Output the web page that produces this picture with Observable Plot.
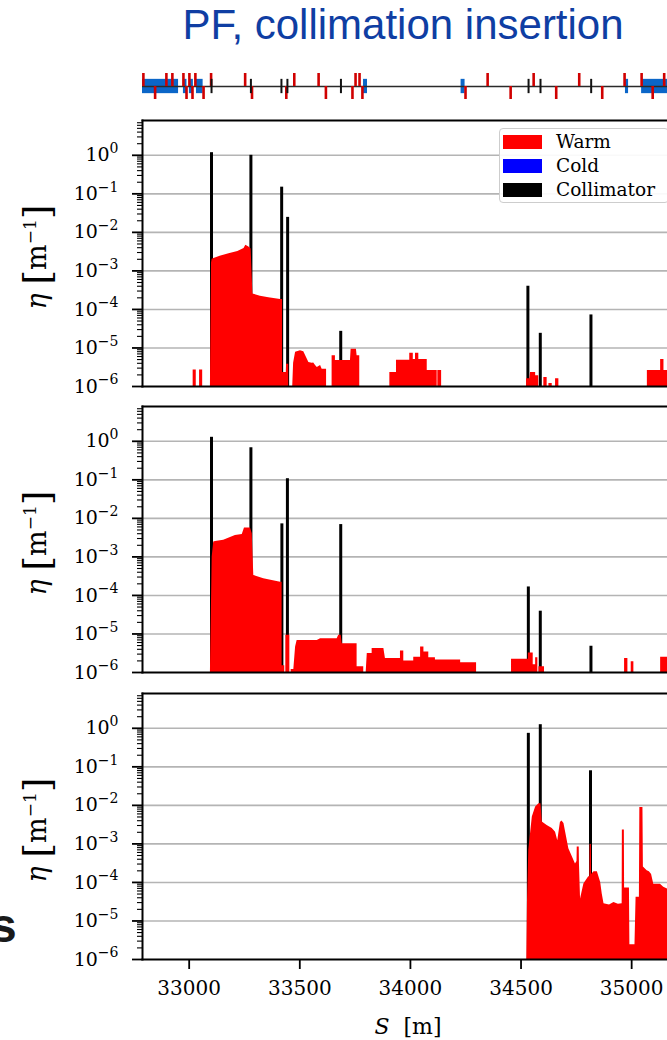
<!DOCTYPE html>
<html><head><meta charset="utf-8">
<script src="https://cdn.jsdelivr.net/npm/d3@7"></script>
<script src="https://cdn.jsdelivr.net/npm/@observablehq/plot@0.6"></script>
<style>
body{margin:0;background:#fff;width:667px;height:1040px;overflow:hidden;position:relative;}
.abs{position:absolute;}
#title{left:403px;top:4px;transform:translateX(-50%);font:42px/42px "Liberation Sans",Arial,sans-serif;color:#0f3ea3;white-space:nowrap;}
#sfrag{left:-10px;top:902px;font:bold 48px/48px "Liberation Sans",Arial,sans-serif;color:#1a1a1a;}
.ylab{transform:translate(-50%,-50%) rotate(-90deg);font-family:"DejaVu Serif",serif;font-size:27px;white-space:nowrap;color:#000;}
.ylab .br{font-size:38px;vertical-align:-4px;}
.ylab sup{font-size:17px;}
#xlab{left:408px;top:1026px;transform:translate(-50%,-50%);font-family:"DejaVu Serif",serif;font-size:22px;white-space:nowrap;}
#legend{left:499px;top:128px;width:170px;height:75px;background:rgba(255,255,255,0.92);border:1.5px solid #cdcdcd;border-radius:4px;box-sizing:border-box;}
.lrow{position:absolute;left:3px;height:24px;}
.sw{position:absolute;left:0;top:5px;width:39px;height:14px;}
.lt{position:absolute;left:53px;top:0;font:18.5px/24px "DejaVu Serif",serif;color:#000;white-space:nowrap;}
</style></head><body>
<div id="title" class="abs">PF, collimation insertion</div>
<div id="sfrag" class="abs">s</div>
<script>
// ---- axis settings ----
const xDomain = [32789, 35162];
const yDomain = [1e-6, 8];
const xTicks = [33000, 33500, 34000, 34500, 35000];
const yMajor = [1e-6, 1e-5, 1e-4, 1e-3, 1e-2, 1e-1, 1];
const yTickLabels = ["10|\u22126", "10|\u22125", "10|\u22124", "10|\u22123", "10|\u22122", "10|\u22121", "10|0"];
const yGrid = [1e-5, 1e-4, 1e-3, 1e-2, 1e-1, 1];
const yMinor = [];
for (let e = -6; e <= 0; e++) for (let k = 2; k <= 9; k++) { const v = k * Math.pow(10, e); if (v < yDomain[1]) yMinor.push(v); }

// ---- beam-line strip ----
const blueBoxes = [[32789, 32952], [32974, 32990], [33001, 33019], [33033, 33063], [33788, 33806], [34229, 34247], [34972, 34986], [35045, 35162]];
const redUp = [32793, 32897, 32924, 32974, 33001, 33028, 33099, 33253, 33475, 33585, 33752, 33770, 34349, 34557, 34763, 34968, 35045, 35147];
const redDown = [32846, 32988, 33015, 33065, 33284, 33439, 33618, 33738, 33783, 34249, 34453, 34659, 34867, 35095];
const blackTicks = [33101, 33279, 33417, 33444, 33686, 34534, 34588, 34817];

// ---- loss maps: [S, eta] ----
const B = 1e-6;
const warm1 = [[33018,B],[33018,2.7e-6],[33032,2.7e-6],[33032,B],
 [33047,B],[33047,2.7e-6],[33061,2.7e-6],[33061,B],
 [33096,B],[33101,1.6e-3],[33104,2.0e-3],[33112,2.1e-3],[33140,2.4e-3],[33180,2.8e-3],[33220,3.2e-3],[33248,3.8e-3],[33256,4.6e-3],[33270,4.2e-3],[33280,3.7e-3],[33288,2.5e-4],[33322,2.2e-4],[33360,2.0e-4],[33413,1.8e-4],[33422,1.8e-4],[33422,2.3e-6],[33439,2.3e-6],[33440,3.8e-6],[33450,3.8e-6],[33450,B],
 [33468,B],[33472,4e-6],[33481,7.7e-6],[33503,8.5e-6],[33518,8.0e-6],[33541,4.2e-6],[33556,4.0e-6],[33563,4.1e-6],[33571,3.5e-6],[33579,3.1e-6],[33594,3.5e-6],[33601,2.8e-6],[33621,2.8e-6],[33621,B],
 [33646,B],[33646,6.3e-6],[33661,6.3e-6],[33661,4.7e-6],[33729,4.7e-6],[33732,9.3e-6],[33756,9.3e-6],[33759,6.3e-6],[33771,6.3e-6],[33771,B],
 [33907,B],[33907,2.3e-6],[33937,2.3e-6],[33937,4.8e-6],[33997,4.8e-6],[33997,7.3e-6],[34013,7.3e-6],[34013,5e-6],[34023,5e-6],[34023,7.3e-6],[34038,7.3e-6],[34038,5e-6],[34076,5e-6],[34076,2.6e-6],[34121,2.6e-6],[34121,B],[34124,B],[34124,2.6e-6],[34141,2.6e-6],[34141,B],
 [34525,B],[34525,1.6e-6],[34540,1.6e-6],[34543,2.3e-6],[34566,2.3e-6],[34566,1.9e-6],[34580,1.9e-6],[34580,B],[34603,B],[34603,1.7e-6],[34618,1.7e-6],[34618,B],[34626,B],[34626,1.2e-6],[34641,1.2e-6],[34641,B],[34656,B],[34656,1.6e-6],[34671,1.6e-6],[34671,B],
 [35071,B],[35071,2.6e-6],[35131,2.6e-6],[35131,5e-6],[35146,5e-6],[35146,2.6e-6],[35162,2.6e-6]];
const coll1 = [[33101,1.17],[33279,1.0],[33418,0.149],[33445,0.0245],[33685,2.7e-5],[34531,4e-4],[34587,2.4e-5],[34816,7.2e-5]];

const warm2 = [[33096,B],[33104,1.0e-3],[33111,2.45e-3],[33119,2.5e-3],[33156,2.7e-3],[33209,3.6e-3],[33240,3.8e-3],[33250,5.6e-3],[33277,5.6e-3],[33285,4.0e-3],[33292,3.3e-4],[33337,2.7e-4],[33413,2.2e-4],[33420,2.2e-4],[33420,1.5e-6],[33432,1.5e-6],[33432,B],
 [33437,B],[33437,9.2e-6],[33455,9.2e-6],[33455,B],[33461,B],[33461,1.2e-6],[33473,1.2e-6],[33481,4.6e-6],[33488,6.8e-6],[33579,6.8e-6],[33594,7.5e-6],[33669,7.5e-6],[33676,9.2e-6],[33687,9.2e-6],[33692,5.6e-6],[33759,5.6e-6],[33759,1.4e-6],[33789,1.4e-6],[33789,B],
 [33800,B],[33805,3.1e-6],[33827,3.1e-6],[33827,4.2e-6],[33880,4.2e-6],[33887,2.3e-6],[33955,2.3e-6],[33955,3.6e-6],[33970,3.6e-6],[33970,2.0e-6],[34015,2.0e-6],[34015,2.5e-6],[34046,2.5e-6],[34046,4.6e-6],[34061,4.6e-6],[34061,3.4e-6],[34083,3.4e-6],[34083,2.4e-6],[34113,2.4e-6],[34113,2.1e-6],[34227,2.1e-6],[34227,1.8e-6],[34299,1.8e-6],[34299,B],
 [34457,B],[34457,2.2e-6],[34533,2.2e-6],[34533,3.2e-6],[34555,3.2e-6],[34555,1.6e-6],[34566,1.6e-6],[34566,2.4e-6],[34576,2.4e-6],[34576,B],[34581,B],[34581,1.4e-6],[34606,1.4e-6],[34606,B],
 [34968,B],[34968,2.3e-6],[34983,2.3e-6],[34983,B],[34998,B],[34998,1.9e-6],[35010,1.9e-6],[35010,B],
 [35131,B],[35131,2.5e-6],[35162,2.5e-6]];
const coll2 = [[33101,1.27],[33279,0.68],[33419,7.2e-3],[33444,0.107],[33685,6.9e-3],[34533,1.66e-4],[34587,3.9e-5],[34816,4.8e-6]];

const warm3 = [[34526,B],[34529,3e-5],[34535,6.8e-4],[34551,5.0e-3],[34566,9.1e-3],[34581,1.1e-2],[34590,1.1e-2],[34596,3.7e-3],[34618,3.0e-3],[34641,2.5e-3],[34656,2.0e-3],[34666,1.2e-3],[34678,3.6e-3],[34685,3.9e-3],[34694,3.4e-3],[34716,7.5e-4],[34746,3.0e-4],[34753,3.5e-4],[34754,8.3e-4],[34763,8.3e-4],[34764,3.0e-4],[34769,3.7e-5],[34784,9.1e-5],[34806,1.4e-4],[34811,1.4e-4],[34812,9.7e-4],[34818,9.7e-4],[34819,1.6e-4],[34830,1.9e-4],[34845,1.9e-4],[34860,1.0e-4],[34867,5.0e-5],[34875,2.8e-5],[34900,2.6e-5],[34920,3.0e-5],[34940,2.7e-5],[34957,2.8e-5],[34958,2.3e-3],[34967,2.3e-3],[34968,7.2e-5],[34990,7.2e-5],[34992,2.4e-6],[35015,2.4e-6],[35020,4.1e-5],[35035,4.1e-5],[35037,8.8e-3],[35051,8.8e-3],[35053,2.5e-4],[35070,2.0e-4],[35080,1.9e-4],[35090,1.6e-4],[35100,9.0e-5],[35130,9.0e-5],[35145,7.5e-5],[35162,6.8e-5]];
const coll3 = [[34533,0.74],[34587,1.24],[34814,0.079]];

const legendItems = [["Warm", "#ff0000"], ["Cold", "#0000ff"], ["Collimator", "#000000"]];

const NS = "http://www.w3.org/2000/svg";
function place(node, top) {
  const d = document.createElement("div");
  d.className = "abs"; d.style.left = "0px"; d.style.top = top + "px";
  d.appendChild(node); document.body.appendChild(d);
}
function supLabels(svg) {
  svg.querySelectorAll("text").forEach(t => {
    const s = t.textContent;
    if (s.includes("|")) {
      const [base, ex] = s.split("|");
      t.textContent = "";
      const a = document.createElementNS(NS, "tspan"); a.textContent = base;
      const b = document.createElementNS(NS, "tspan"); b.textContent = ex;
      b.setAttribute("dy", "-0.6em"); b.setAttribute("font-size", "14");
      t.append(a, b);
    }
  });
}

// strip
const strip = Plot.plot({
  width: 667, height: 30, marginLeft: 142, marginRight: 0, marginTop: 2, marginBottom: 2,
  x: {domain: xDomain, axis: null}, y: {domain: [-1, 1], axis: null},
  style: {background: "transparent", overflow: "visible"},
  marks: [
    Plot.rect(blueBoxes, {x1: d => d[0], x2: d => d[1], y1: () => -0.55, y2: () => 0.55, fill: "#0b66c8"}),
    Plot.ruleY([0], {stroke: "#2a2a2a", strokeWidth: 1.5}),
    Plot.ruleX(redUp, {x: d => d, y1: () => 0, y2: () => 1, stroke: "#d00000", strokeWidth: 2.6}),
    Plot.ruleX(redDown, {x: d => d, y1: () => -1, y2: () => 0, stroke: "#d00000", strokeWidth: 2.6}),
    Plot.ruleX(blackTicks, {x: d => d, y1: () => -0.55, y2: () => 0.55, stroke: "#111", strokeWidth: 2})
  ]
});
place(strip, 71);

function panel(warm, coll, frameTop, withX) {
  const mt = 10, mb = withX ? 80 : 14, h = 266;
  const marks = [
    Plot.ruleY(yGrid, {stroke: "#b4b4b4", strokeWidth: 1.6}),
    Plot.ruleX(coll, {x: d => d[0], y1: () => 1e-6, y2: d => d[1], stroke: "#000", strokeWidth: 3}),
    Plot.areaY(warm, {x: d => d[0], y1: () => 1e-6, y2: d => d[1], fill: "#ff0000"}),
    Plot.axisY({ticks: yMinor, tickSize: 5, tickFormat: () => "", strokeWidth: 1.1, label: null}),
    Plot.axisY({ticks: yMajor, tickSize: 10, tickPadding: 14, tickFormat: d => yTickLabels[yMajor.indexOf(d)], strokeWidth: 1.8, fontSize: 19, label: null}),
    Plot.frame({anchor: "top", stroke: "#000", strokeWidth: 2}),
    Plot.frame({anchor: "left", stroke: "#000", strokeWidth: 2}),
    Plot.frame({anchor: "bottom", stroke: "#000", strokeWidth: 2})
  ];
  if (withX) marks.push(Plot.axisX({ticks: xTicks, tickSize: 10, tickPadding: 11, tickFormat: d => String(d), fontSize: 20, strokeWidth: 1.8, label: null}));
  const p = Plot.plot({
    width: 667, height: mt + h + mb, marginLeft: 142, marginRight: 0, marginTop: mt, marginBottom: mb,
    x: {domain: xDomain, axis: null},
    y: {type: "log", domain: yDomain, axis: null},
    style: {fontFamily: "DejaVu Serif, serif", color: "#000", background: "transparent", overflow: "visible"},
    marks
  });
  supLabels(p);
  place(p, frameTop - mt);
  const lab = document.createElement("div");
  lab.className = "abs ylab";
  lab.style.left = "37px"; lab.style.top = (frameTop + h / 2 + 4) + "px";
  lab.innerHTML = '<i>\u03b7</i>&nbsp;<span class="br">[</span>m<sup>\u22121</sup><span class="br">]</span>';
  document.body.appendChild(lab);
}
panel(warm1, coll1, 119.5, false);
panel(warm2, coll2, 406, false);
panel(warm3, coll3, 693, true);

// x label
const xl = document.createElement("div");
xl.id = "xlab"; xl.className = "abs";
xl.innerHTML = '<i>S</i>&nbsp;&nbsp;[m]';
document.body.appendChild(xl);

// legend
const lg = document.createElement("div");
lg.id = "legend"; lg.className = "abs";
legendItems.forEach(([name, col], i) => {
  const r = document.createElement("div");
  r.className = "lrow"; r.style.top = (0.5 + i * 24) + "px";
  r.innerHTML = `<div class="sw" style="background:${col}"></div><div class="lt">${name}</div>`;
  lg.appendChild(r);
});
document.body.appendChild(lg);
</script></body></html>
